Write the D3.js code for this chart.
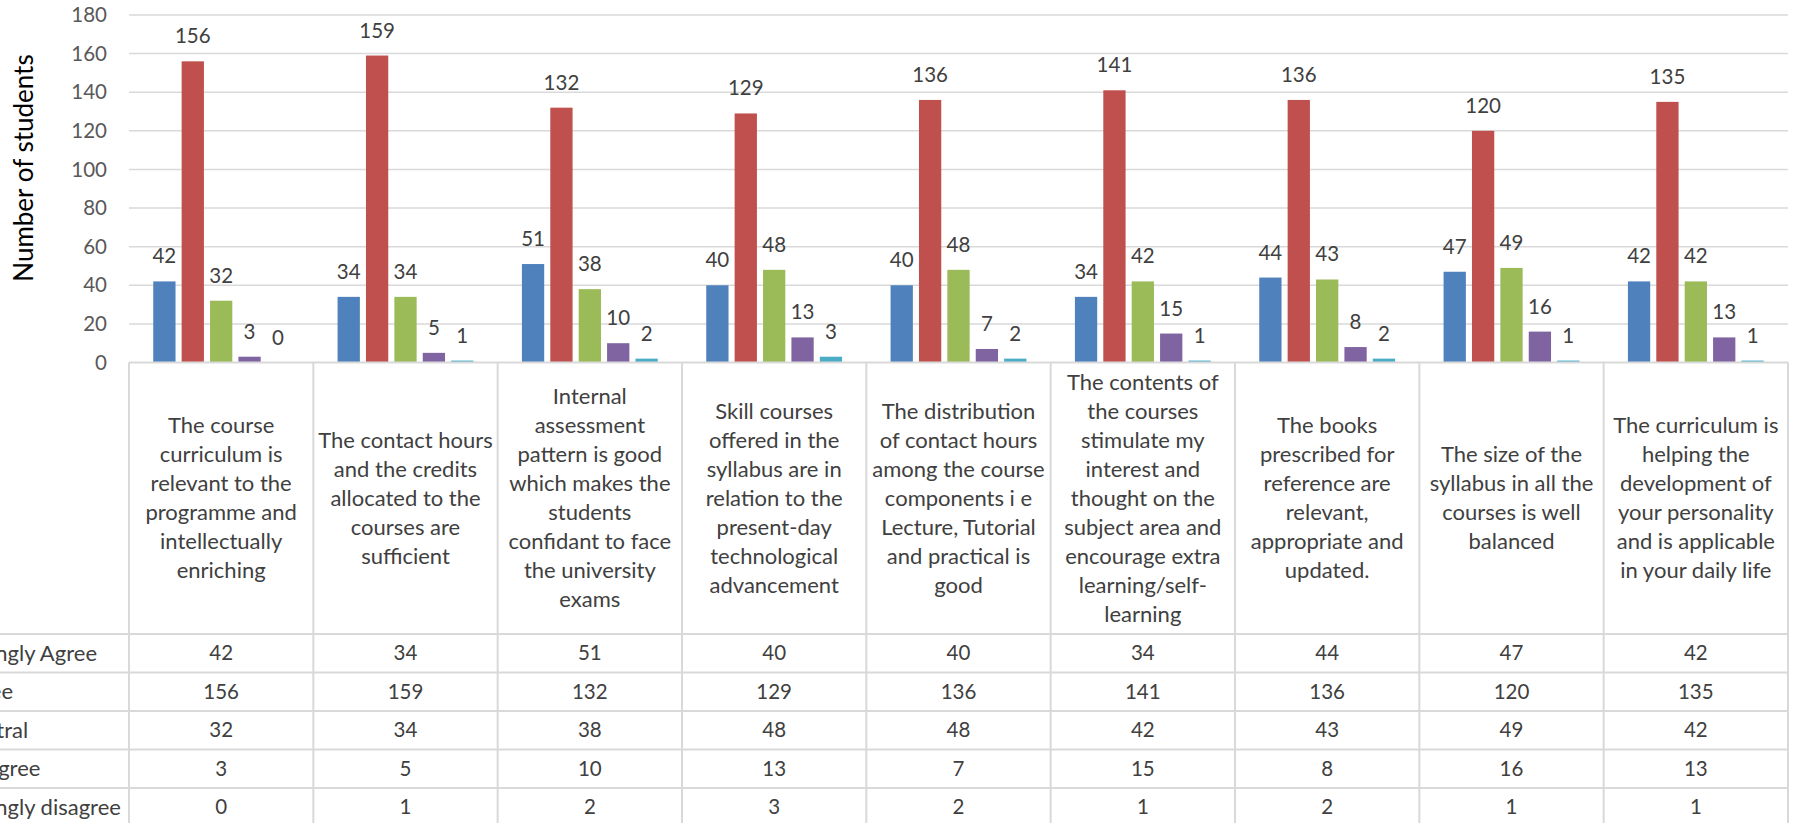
<html>
<script src="https://d3js.org/d3.v7.min.js" charset="utf-8"></script>
<style>
body { margin: 0; background: white; }
text { font-family: Lato, "Open Sans", sans-serif; }
</style>
<body>
</body>
<script>

// survey answers, one array per response level
var series = ["Strongly Agree", "Agree", "Neutral", "Disagree", "Strongly disagree"];
var colors = ["#4f81bd", "#c0504d", "#9bbb59", "#8064a2", "#4bacc6"];

var stronglyAgree = [42, 34, 51, 40, 40, 34, 44, 47, 42];
var agree = [156, 159, 132, 129, 136, 141, 136, 120, 135];
var neutral = [32, 34, 38, 48, 48, 42, 43, 49, 42];
var disagree = [3, 5, 10, 13, 7, 15, 8, 16, 13];
var stronglyDisagree = [0, 1, 2, 3, 2, 1, 2, 1, 1];

var yTicks = [0, 20, 40, 60, 80, 100, 120, 140, 160, 180];

// statements, already broken into lines as in the table
var categories = [
	["The course", "curriculum is", "relevant to the", "programme and", "intellectually", "enriching"],
	["The contact hours", "and the credits", "allocated to the", "courses are", "sufficient"],
	["Internal", "assessment", "pattern is good", "which makes the", "students", "confidant to face", "the university", "exams"],
	["Skill courses", "offered in the", "syllabus are in", "relation to the", "present-day", "technological", "advancement"],
	["The distribution", "of contact hours", "among the course", "components i e", "Lecture, Tutorial", "and practical is", "good"],
	["The contents of", "the courses", "stimulate my", "interest and", "thought on the", "subject area and", "encourage extra", "learning/self-", "learning"],
	["The books", "prescribed for", "reference are", "relevant,", "appropriate and", "updated."],
	["The size of the", "syllabus in all the", "courses is well", "balanced"],
	["The curriculum is", "helping the", "development of", "your personality", "and is applicable", "in your daily life"]
];

var values = [stronglyAgree, agree, neutral, disagree, stronglyDisagree];

chart();

function chart() {
	var W = 1794, H = 823;
	var left = 129, right = 1788;
	var labelTop = 362.5, labelBottom = 634, rowH = 38.5;
	var grid = "#d9d9d9";

	var svg = d3.select("body").append("svg")
		.attr("width", W)
		.attr("height", H);

	var idx = d3.range(categories.length);

	var x = d3.scaleBand()
		.domain(idx)
		.range([left, right]);

	var x1 = d3.scaleBand()
		.domain(d3.range(series.length))
		.range([0, x.bandwidth()])
		.paddingInner(0.215)
		.paddingOuter(0.854);

	var y = d3.scaleLinear()
		.domain([0, 180])
		.range([362.5, 15]);

	// gridlines
	svg.append("g").selectAll("line")
		.data(yTicks.slice(1))
		.enter().append("line")
		.attr("x1", left).attr("x2", right)
		.attr("y1", function(d) { return y(d); })
		.attr("y2", function(d) { return y(d); })
		.style("stroke", grid)
		.style("stroke-width", 1.5);

	// y axis labels
	var yAxis = svg.append("g")
		.attr("transform", "translate(" + (left - 22) + ",0)")
		.call(d3.axisLeft(y).tickValues(yTicks).tickSize(0).tickPadding(0));
	yAxis.select(".domain").remove();
	yAxis.selectAll("text")
		.style("font-size", "20.5px")
		.style("fill", "#595959")
		.style("font-family", "Lato, sans-serif");

	svg.append("text")
		.attr("transform", "translate(33," + 168 + ") rotate(-90)")
		.attr("text-anchor", "middle")
		.style("font-size", "26px")
		.style("fill", "#000")
		.text("Number of students");

	// bars
	var groups = svg.append("g").selectAll("g")
		.data(idx)
		.enter().append("g")
		.attr("transform", function(i) { return "translate(" + x(i) + ",0)"; });

	groups.selectAll("rect")
		.data(function(i) { return values.map(function(v, s) { return {s: s, v: v[i]}; }); })
		.enter().append("rect")
		.attr("x", function(d) { return x1(d.s); })
		.attr("y", function(d) { return y(d.v); })
		.attr("width", x1.bandwidth())
		.attr("height", function(d) { return y(0) - y(d.v); })
		.style("fill", function(d) { return colors[d.s]; });

	groups.selectAll("text")
		.data(function(i) { return values.map(function(v, s) { return {s: s, v: v[i]}; }); })
		.enter().append("text")
		.attr("x", function(d) { return x1(d.s) + x1.bandwidth() / 2; })
		.attr("y", function(d) { return y(d.v) - 18; })
		.attr("text-anchor", "middle")
		.style("font-size", "20.5px")
		.style("fill", "#404040")
		.text(function(d) { return d.v; });

	// data table
	var table = svg.append("g");

	// horizontal rules
	var rows = d3.range(series.length + 1).map(function(r) { return labelBottom + r * rowH; });
	table.selectAll("line.h")
		.data(rows)
		.enter().append("line")
		.attr("x1", 0).attr("x2", right)
		.attr("y1", function(d) { return d; })
		.attr("y2", function(d) { return d; })
		.style("stroke", grid)
		.style("stroke-width", 2);

	table.append("line")
		.attr("x1", left).attr("x2", right)
		.attr("y1", labelTop).attr("y2", labelTop)
		.style("stroke", grid)
		.style("stroke-width", 2);

	// vertical rules
	table.selectAll("line.v")
		.data(idx.concat([categories.length]))
		.enter().append("line")
		.attr("x1", function(i) { return i < categories.length ? x(i) : right; })
		.attr("x2", function(i) { return i < categories.length ? x(i) : right; })
		.attr("y1", labelTop).attr("y2", H)
		.style("stroke", grid)
		.style("stroke-width", 2);

	// statement labels
	var lineH = 29;
	var mid = (labelTop + labelBottom) / 2;
	idx.forEach(function(i) {
		var lines = categories[i];
		var t = table.append("text")
			.attr("text-anchor", "middle")
			.style("font-size", "22px")
			.style("fill", "#404040");
		t.selectAll("tspan")
			.data(lines)
			.enter().append("tspan")
			.attr("x", x(i) + x.bandwidth() / 2)
			.attr("y", function(d, k) { return mid + (k - (lines.length - 1) / 2) * lineH; })
			.attr("dy", "0.35em")
			.text(function(d) { return d; });
	});

	// row headers (cut off by the left edge, as in the picture)
	var heads = table.selectAll("text.rowhead")
		.data(series)
		.enter().append("text")
		.attr("y", function(d, r) { return labelBottom + r * rowH + rowH / 2; })
		.attr("dy", "0.35em")
		.style("font-size", "22px")
		.style("fill", "#404040")
		.text(function(d) { return d; });
	// "Strongly Agree" ends near x = 97 in the picture
	var shift = 97 - heads.node().getComputedTextLength();
	heads.attr("x", shift);

	// row values
	values.forEach(function(v, r) {
		table.append("g").selectAll("text")
			.data(v)
			.enter().append("text")
			.attr("x", function(d, i) { return x(i) + x.bandwidth() / 2; })
			.attr("y", labelBottom + r * rowH + rowH / 2)
			.attr("dy", "0.35em")
			.attr("text-anchor", "middle")
			.style("font-size", "20.5px")
			.style("fill", "#404040")
			.text(function(d) { return d; });
	});
}

</script>
</html>
